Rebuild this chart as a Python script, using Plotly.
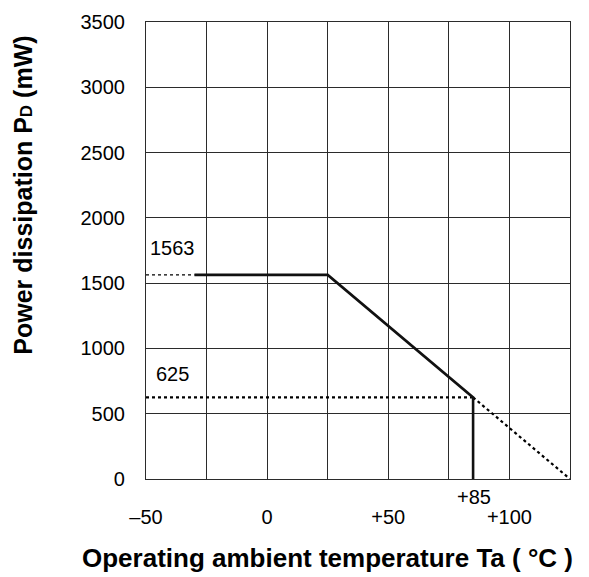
import plotly.graph_objects as go

# ---- data ----
derating_temp = [-30, 25, 85, 85]
derating_power = [1563, 1563, 625, 0]
lead_temp = [-50, -30]
lead_power = [1563, 1563]
ref625_temp = [-50, 85]
ref625_power = [625, 625]
ext_temp = [85, 125]
ext_power = [625, 0]

x_tick_vals = [-50, 0, 50, 100]
x_tick_text = ["\u201350", "0", "+50", "+100"]
x_grid_vals = [-50, -25, 0, 25, 50, 75, 100, 125]
y_tick_vals = [0, 500, 1000, 1500, 2000, 2500, 3000, 3500]
y_tick_text = [str(v) for v in y_tick_vals]

FONT = "Liberation Sans, Arial, Helvetica, sans-serif"
GRID = "#2b2b2b"

fig = go.Figure()
fig.add_trace(go.Scatter(x=lead_temp, y=lead_power, mode="lines",
                         line=dict(color="black", width=1.3, dash="dot"),
                         cliponaxis=False, showlegend=False, hoverinfo="skip"))
fig.add_trace(go.Scatter(x=ref625_temp, y=ref625_power, mode="lines",
                         line=dict(color="black", width=2.2, dash="dot"),
                         cliponaxis=False, showlegend=False, hoverinfo="skip"))
fig.add_trace(go.Scatter(x=ext_temp, y=ext_power, mode="lines",
                         line=dict(color="black", width=2.2, dash="dot"),
                         cliponaxis=False, showlegend=False, hoverinfo="skip"))
fig.add_trace(go.Scatter(x=derating_temp, y=derating_power, mode="lines",
                         line=dict(color="#111111", width=2.6),
                         cliponaxis=False, showlegend=False, hoverinfo="skip"))

fig.update_layout(
    width=589, height=577,
    margin=dict(l=146, r=19, t=22, b=98),
    paper_bgcolor="white", plot_bgcolor="white",
    font=dict(family=FONT, size=20, color="black"),
    xaxis=dict(range=[-50, 125], tickmode="array", tickvals=x_tick_vals,
               ticktext=x_tick_text, showgrid=True, gridcolor=GRID, gridwidth=1.2,
               minor=dict(tickmode="array", tickvals=x_grid_vals, showgrid=True,
                          gridcolor=GRID, gridwidth=1.2),
               showline=True, mirror=True, linecolor=GRID, linewidth=1.2,
               zeroline=False, ticks="", ticklabelstandoff=20,
               tickfont=dict(size=20, color="black")),
    yaxis=dict(range=[0, 3500], tickmode="array", tickvals=y_tick_vals,
               ticktext=y_tick_text, showgrid=True, gridcolor=GRID, gridwidth=1.2,
               showline=True, mirror=True, linecolor=GRID, linewidth=1.2,
               zeroline=False, ticks="", ticklabelstandoff=16,
               tickfont=dict(size=20, color="black")),
)

annots = [
    dict(x=-39, y=1770, text="1563", xref="x", yref="y", showarrow=False,
         xanchor="center", yanchor="middle", font=dict(size=20)),
    dict(x=-39, y=804, text="625", xref="x", yref="y", showarrow=False,
         xanchor="center", yanchor="middle", font=dict(size=20)),
    dict(x=85.5, y=-0.0394, text="+85", xref="x", yref="paper", showarrow=False,
         xanchor="center", yanchor="middle", font=dict(size=20)),
    dict(x=0.427, y=-0.173, xref="paper", yref="paper", showarrow=False,
         xanchor="center", yanchor="middle",
         text="<b>Operating ambient temperature Ta ( \u00b0C )</b>",
         font=dict(size=26)),
    dict(x=-0.29, y=0.62, xref="paper", yref="paper", showarrow=False,
         xanchor="center", yanchor="middle", textangle=-90,
         text="<b>Power dissipation P<span style='font-size:17px'>D</span> (mW)</b>",
         font=dict(size=25)),
]
fig.update_layout(annotations=annots)

fig.write_html("out.html")
